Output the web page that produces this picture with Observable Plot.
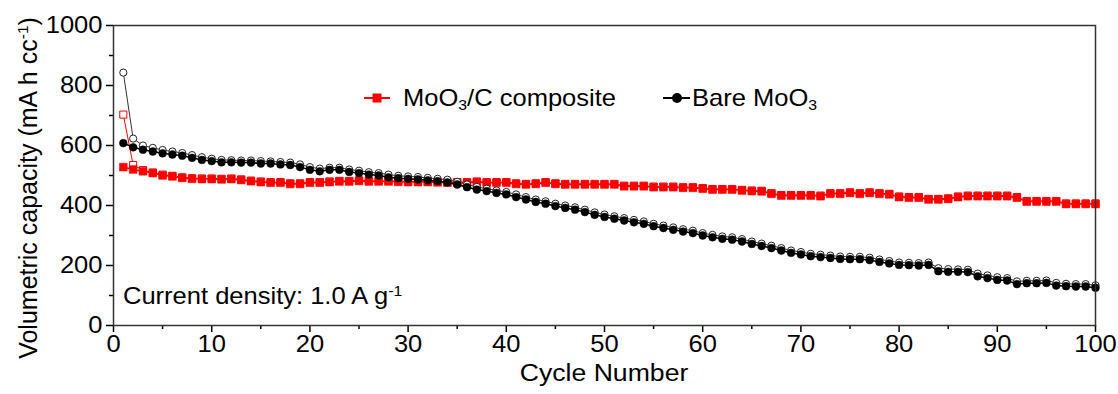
<!DOCTYPE html>
<html><head><meta charset="utf-8">
<script src="https://cdn.jsdelivr.net/npm/d3@7"></script>
<script src="https://cdn.jsdelivr.net/npm/@observablehq/plot@0.6"></script>
<style>
body{margin:0;background:#fff;}
#chart{position:relative;width:1118px;height:394px;}
</style></head><body><div id="chart"></div>
<script>
const cycles = d3.range(1, 101);
const compositeDischarge = [528,520,514,508,500,497,492,489,488,488,
487,488,485,481,478,476,476,472,472,476,
476,478,480,480,482,480,480,480,479,478,
478,478,477,476,476,476,478,476,476,476,
472,470,472,476,472,470,470,470,470,470,
470,464,464,464,461,461,461,459,459,456,
453,453,453,450,448,447,439,433,433,433,
433,431,439,439,442,439,442,439,437,428,
426,426,420,420,422,428,431,431,431,431,
431,426,413,413,413,413,405,405,405,405];
const compositeCharge = [703,535,518,510,503,499,494,491,490,490,
489,490,487,483,480,478,478,474,474,478,
478,480,482,482,484,482,482,482,481,480,
480,480,479,478,478,478,480,478,478,478,
474,472,474,478,474,472,472,472,472,472,
472,466,466,466,463,463,463,461,461,458,
455,455,455,452,450,449,441,435,435,435,
435,433,441,441,444,441,444,441,439,430,
428,428,422,422,424,430,433,433,433,433,
433,428,415,415,415,415,407,407,407,407];
const bareDischarge = [608,594,586,580,574,570,566,559,552,548,
544,544,543,543,540,540,537,535,528,519,
514,519,519,512,508,503,500,494,491,489,
487,484,481,477,470,461,453,448,442,437,
428,420,412,406,398,392,386,378,369,362,
356,350,344,339,331,325,319,313,308,300,
294,289,286,280,272,265,258,250,242,237,
231,228,225,222,221,221,218,212,207,202,
201,200,202,181,179,179,178,164,158,152,
150,138,141,141,142,133,131,130,130,126];
const bareCharge = [843,623,600,592,585,580,575,568,561,556,
552,551,550,550,548,547,545,543,537,528,
523,526,526,520,516,511,508,503,499,497,
495,492,489,486,479,470,462,456,450,445,
437,428,420,414,406,400,394,386,377,370,
364,358,352,347,339,333,327,321,316,308,
302,297,294,288,280,273,266,258,250,245,
239,236,233,230,229,229,226,220,215,210,
209,208,210,191,188,187,186,173,167,161,
158,147,149,149,150,142,139,138,138,134];
const xTicks = [0,10,20,30,40,50,60,70,80,90,100];
const xMinor = [5,15,25,35,45,55,65,75,85,95];
const yTicks = [0,200,400,600,800,1000];
const yMinor = [100,300,500,700,900];

const toRows = vals => cycles.map((c, i) => ({cycle: c, value: vals[i]}));
const cD = toRows(compositeDischarge), cC = toRows(compositeCharge);
const bD = toRows(bareDischarge), bC = toRows(bareCharge);
const FONT = "'Liberation Sans', Arial, sans-serif";
const SX = 1.11; // horizontal text stretch seen in the reference

const plot = Plot.plot({
  width: 1118, height: 394,
  marginLeft: 113, marginRight: 23, marginTop: 25, marginBottom: 69,
  style: {fontFamily: FONT, fontSize: "23px", color: "#000", background: "#fff"},
  x: {domain: [0, 100]},
  y: {domain: [0, 1000]},
  marks: [
    Plot.axisX({ticks: xTicks, tickSize: 7, tickPadding: 3, fontSize: 23, strokeWidth: 1.5, tickFormat: d => String(d), label: null}),
    Plot.axisX({ticks: xMinor, tickSize: 4, tickFormat: () => "", strokeWidth: 1.5, label: null}),
    Plot.axisY({ticks: yTicks, tickSize: 7, tickPadding: 4, fontSize: 23, strokeWidth: 1.5, tickFormat: d => String(d), label: null}),
    Plot.axisY({ticks: yMinor, tickSize: 4, tickFormat: () => "", strokeWidth: 1.5, label: null}),
    Plot.line(cC, {x: "cycle", y: "value", stroke: "#ff0000", strokeWidth: 1}),
    Plot.dot(cC, {x: "cycle", y: "value", symbol: "square", r: 4, fill: "#fff", stroke: "#ff0000", strokeWidth: 1}),
    Plot.line(cD, {x: "cycle", y: "value", stroke: "#ff0000", strokeWidth: 1.5}),
    Plot.dot(cD, {x: "cycle", y: "value", symbol: "square", r: 4.4, fill: "#ff0000", stroke: "#ff0000", strokeWidth: 0.5}),
    Plot.line(bC, {x: "cycle", y: "value", stroke: "#333", strokeWidth: 1}),
    Plot.dot(bC, {x: "cycle", y: "value", r: 3.6, fill: "#fff", stroke: "#222", strokeWidth: 1}),
    Plot.line(bD, {x: "cycle", y: "value", stroke: "#000", strokeWidth: 1.5}),
    Plot.dot(bD, {x: "cycle", y: "value", r: 3.9, fill: "#000", stroke: "#000", strokeWidth: 0.5}),
    Plot.frame({stroke: "#333", strokeWidth: 1.5})
  ]
});
document.getElementById("chart").appendChild(plot);

const svg = d3.select(plot);
// widen tick labels like the reference
svg.selectAll('g[aria-label="x-axis tick label"] text, g[aria-label="y-axis tick label"] text').each(function () {
  const el = d3.select(this);
  const tr = el.attr("transform") || "";
  el.attr("transform", tr + ` scale(${SX},1)`);
});

const g = svg.append("g").attr("font-family", FONT).attr("fill", "#000").attr("text-anchor", "start");
function richText(parent, parts, x, y, attrs, rotate) {
  const t = parent.append("text")
    .attr("transform", `translate(${x},${y})` + (rotate ? ` rotate(${rotate})` : "") + ` scale(${SX},1)`);
  for (const k in attrs) t.attr(k, attrs[k]);
  parts.forEach(p => {
    const s = t.append("tspan").text(p.t);
    if (p.sup) s.attr("font-size", "0.62em").attr("dy", "-0.55em");
    if (p.sub) s.attr("font-size", "0.62em").attr("dy", "0.3em");
    if (p.back) s.attr("dy", p.back);
  });
  return t;
}
// axis titles
richText(g, [{t: "Cycle Number"}], 604, 381, {"text-anchor": "middle", "font-size": 24});
const yl = g.append("text")
  .attr("transform", "translate(37,188) rotate(-90)")
  .attr("text-anchor", "middle").attr("font-size", 25);
yl.append("tspan").text("Volumetric capacity (mA h cc");
yl.append("tspan").text("-1").attr("font-size", "0.62em").attr("dy", "-0.55em");
yl.append("tspan").text(")").attr("dy", "0.34em");
// annotation
richText(g, [{t: "Current density: 1.0 A g"}, {t: "-1", sup: true}], 123, 304, {"font-size": 23, "text-anchor": "start"});
// legend
const lg = g.append("g");
lg.append("line").attr("x1", 364).attr("x2", 390).attr("y1", 98).attr("y2", 98).attr("stroke", "#ff0000").attr("stroke-width", 2);
lg.append("rect").attr("x", 372.5).attr("y", 93.5).attr("width", 9).attr("height", 9).attr("fill", "#ff0000");
richText(lg, [{t: "MoO"}, {t: "3", sub: true}, {t: "/C composite", back: "-0.19em"}], 403, 106, {"font-size": 23, "text-anchor": "start"});
lg.append("line").attr("x1", 663).attr("x2", 690).attr("y1", 98).attr("y2", 98).attr("stroke", "#000").attr("stroke-width", 2);
lg.append("circle").attr("cx", 677).attr("cy", 98).attr("r", 5).attr("fill", "#000");
richText(lg, [{t: "Bare MoO"}, {t: "3", sub: true}], 692, 106, {"font-size": 23, "text-anchor": "start"});
</script></body></html>
